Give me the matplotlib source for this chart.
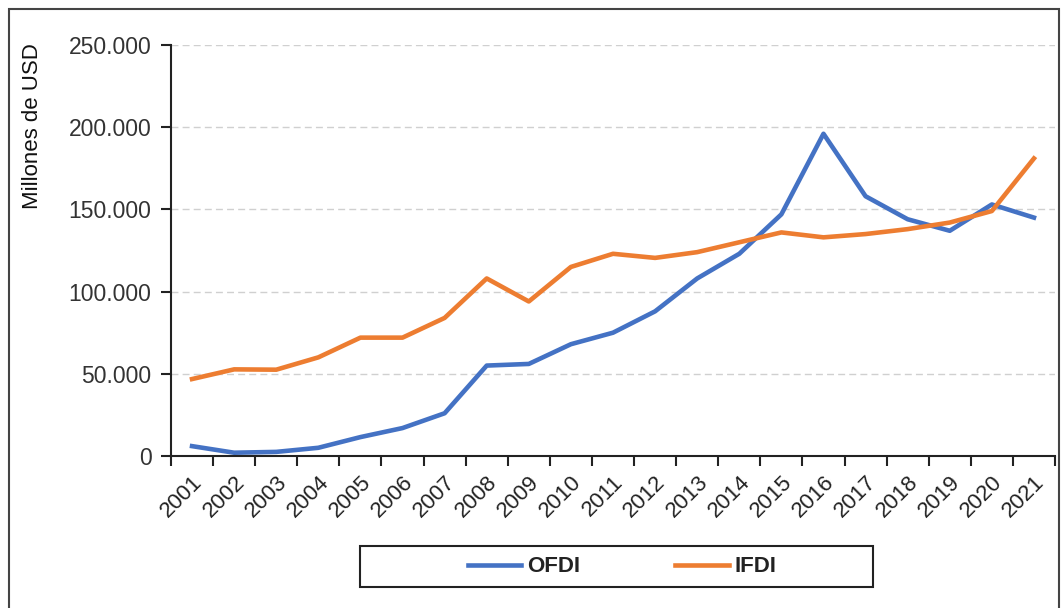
import matplotlib
matplotlib.use("Agg")
import matplotlib.pyplot as plt
from matplotlib.patches import Rectangle
from matplotlib.ticker import FuncFormatter, MultipleLocator

plt.rcParams['font.family'] = ['Liberation Sans', 'DejaVu Sans']

years = [str(y) for y in range(2001, 2022)]
ofdi = [6000, 2000, 2500, 5000, 11500, 17000, 26000, 55000, 56000, 68000, 75000,
        88000, 108000, 123000, 147000, 196000, 158000, 144000, 137000, 153000, 145000]
ifdi = [46800, 52700, 52500, 60000, 72000, 72000, 84000, 108000, 94000, 115000, 123000,
        120500, 124000, 130000, 136000, 133000, 135000, 138000, 142000, 149000, 181000]

W, H = 1064, 608
fig = plt.figure(figsize=(W / 100, H / 100), dpi=100)
ax = fig.add_axes([171 / W, 1 - 456 / H, (1055 - 171) / W, (456 - 45) / H])

x = list(range(len(years)))
ax.plot(x, ofdi, color='#4472C4', lw=3.3, label='OFDI', solid_joinstyle='round')
ax.plot(x, ifdi, color='#ED7D31', lw=3.3, label='IFDI', solid_joinstyle='round')

ax.set_xlim(-0.5, len(years) - 0.5)
ax.set_ylim(0, 250000)
ax.yaxis.set_major_locator(MultipleLocator(50000))
ax.yaxis.set_major_formatter(FuncFormatter(lambda v, p: f"{int(v):,}".replace(',', '.')))
ax.grid(axis='y', color='#d0d0d0', linestyle=(0, (5, 3)), lw=1)
ax.set_axisbelow(True)

ax.set_xticks(x)
ax.set_xticklabels(years, rotation=45, ha='right', rotation_mode='anchor')
ax.set_xticks([i - 0.5 for i in range(len(years) + 1)], minor=True)
ax.tick_params(axis='x', which='major', length=0, labelsize=16, pad=11, colors='#222')
ax.tick_params(axis='x', which='minor', length=7, width=1.5, direction='out', color='#222')
ax.tick_params(axis='y', length=7, width=1.5, labelsize=16.5, colors='#333', pad=7)
ax.tick_params(axis='y', color='#222')

for s in ['top', 'right']:
    ax.spines[s].set_visible(False)
for s in ['left', 'bottom']:
    ax.spines[s].set_linewidth(1.5)
    ax.spines[s].set_color('#222')

fig.text(33 / W, 1 - 126 / H, 'Millones de USD', rotation=90, va='center', ha='center',
         fontsize=16, color='#111')

# legend box
fig.patches.append(Rectangle((360 / W, 1 - 587 / H), 513 / W, 41 / H, transform=fig.transFigure,
                             fill=False, ec='#222', lw=1.5))
leg = fig.legend(loc='center', bbox_to_anchor=(622 / W, 1 - 567 / H), ncol=2, frameon=False,
                 fontsize=16, handlelength=2.4, handletextpad=0.25, columnspacing=4.3)
for t in leg.get_texts():
    t.set_fontweight('bold')
    t.set_color('#222')

# outer frame
fig.patches.append(Rectangle((9 / W, -0.05), (1059 - 9) / W, 1.05 - 9 / H, transform=fig.transFigure,
                             fill=False, ec='#444', lw=1.5))

fig.savefig('out.png', dpi=100, facecolor='white')
